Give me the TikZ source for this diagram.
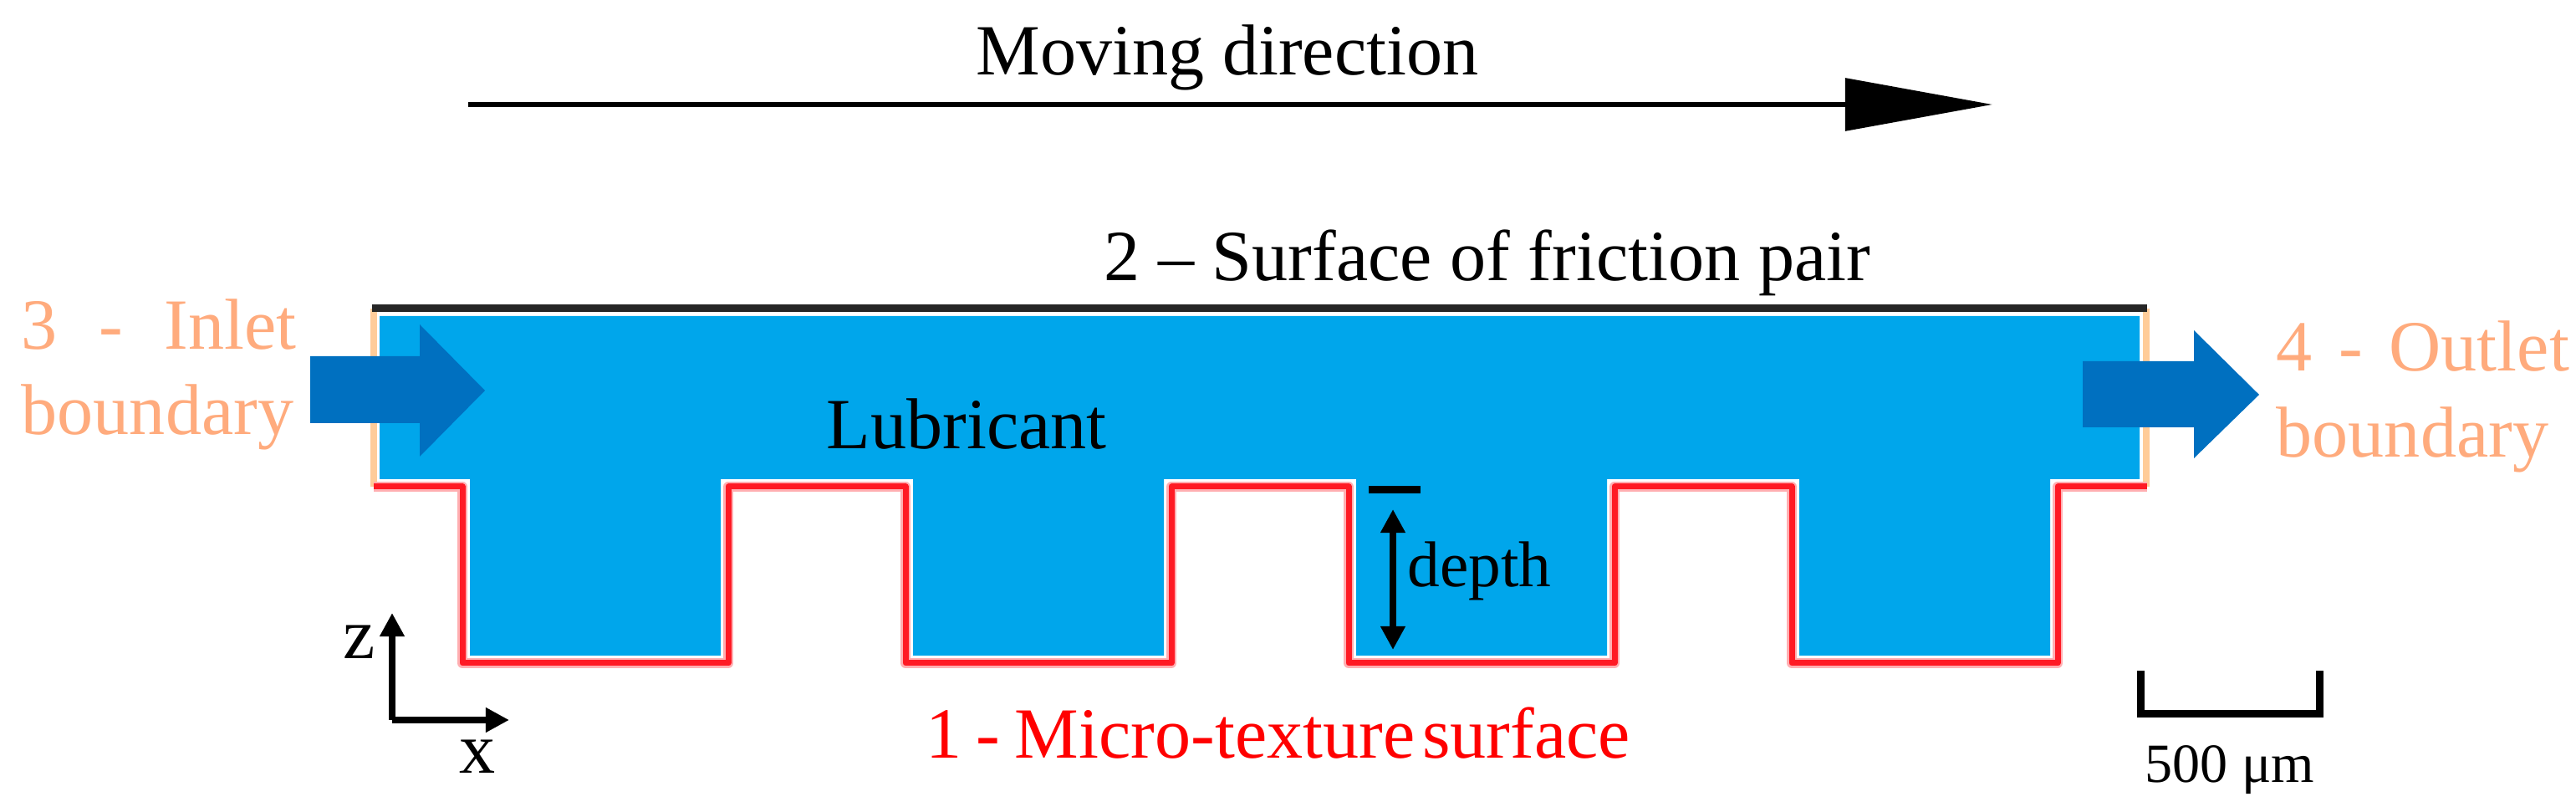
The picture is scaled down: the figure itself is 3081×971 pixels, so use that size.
\documentclass[tikz,border=0pt]{standalone}
\usepackage{xcolor}
\usepackage{fontspec}
\setmainfont{Liberation Serif}
\usetikzlibrary{positioning, arrows.meta, calc}
\definecolor{lubricantBlue}{HTML}{00A6EB}
\definecolor{flowBlue}{HTML}{0070C0}
\definecolor{boundaryOrange}{HTML}{FFAB7D}
\definecolor{sideOrange}{HTML}{FFCC99}
\definecolor{wallBlack}{HTML}{262626}
\definecolor{textureRed}{HTML}{FF1A24}

\begin{document}
\begin{tikzpicture}[
    x=0.01cm, y=-0.01cm,
    label/.style={inner sep=0pt, anchor=base west, font=\fontsize{24.5}{28}\selectfont},
    boundaryLabel/.style={label, text=boundaryOrange},
    depthLabel/.style={label, font=\fontsize{22}{26}\selectfont},
    scaleLabel/.style={label, font=\fontsize{18.8}{22}\selectfont},
    flow/.style={fill=flowBlue},
    moving/.style={line width=0.06cm, -{Triangle[length=1.76cm, width=0.62cm]}},
    axis/.style={line width=0.08cm, -{Triangle[length=0.28cm, width=0.28cm]}},
    gauge/.style={line width=0.08cm, {Triangle[length=0.28cm, width=0.28cm]}-{Triangle[length=0.28cm, width=0.28cm]}},
    texture/.style={line join=round, draw=textureRed, line width=0.07cm},
    textureGlow/.style={line join=round, draw=textureRed!35, line width=0.12cm}]

  \useasboundingbox (0,0) rectangle (3081,971);

  \fill[lubricantBlue] (454,378) -- (2559,378) -- (2559,573) -- (2452,573) -- (2452,784) -- (2152,784)
        -- (2152,573) -- (1922,573) -- (1922,784) -- (1622,784) -- (1622,573) -- (1392,573)
        -- (1392,784) -- (1092,784) -- (1092,573) -- (862,573) -- (862,784) -- (562,784)
        -- (562,573) -- (454,573) -- cycle;

  \draw[sideOrange, line width=0.08cm] (447,369) -- (447,582);
  \draw[sideOrange, line width=0.08cm] (2567,369) -- (2567,582);
  \draw[wallBlack, line width=0.09cm] (445,369) -- (2568,369);

  \draw[textureGlow] (447,582) -- (553,582) -- (553,793) -- (871,793) -- (871,582) -- (1083,582)
        -- (1083,793) -- (1401,793) -- (1401,582) -- (1613,582) -- (1613,793) -- (1931,793)
        -- (1931,582) -- (2143,582) -- (2143,793) -- (2461,793) -- (2461,582) -- (2568,582);
  \draw[texture] (447,582) -- (553,582) -- (553,793) -- (871,793) -- (871,582) -- (1083,582)
        -- (1083,793) -- (1401,793) -- (1401,582) -- (1613,582) -- (1613,793) -- (1931,793)
        -- (1931,582) -- (2143,582) -- (2143,793) -- (2461,793) -- (2461,582) -- (2568,582);

  \fill[flow] (371,426) -- (502,426) -- (502,388) -- (580,467) -- (502,546) -- (502,506) -- (371,506) -- cycle;
  \fill[flow] (2491,432) -- (2624,432) -- (2624,395) -- (2702,472) -- (2624,548) -- (2624,511) -- (2491,511) -- cycle;

  \coordinate (moveStart) at (560,125);
  \coordinate (moveEnd) at (2383,125);
  \draw[moving] (moveStart) -- (moveEnd);
  \node[label] (movingText) at (1167,90) {Moving direction};

  \node[label] (surfaceText) at (1320,336) {2 -- Surface of friction pair};
  \node[label] (lubricantText) at (988,537) {Lubricant};
  \node[label, text=red] (textureText) at (1107,907) {1\kern0.2em-\kern0.2em Micro-texture\kern0.1em surface};

  \node[boundaryLabel] (inletTop) at (25,418) {\hbox to 3.29cm{3\hfill-\hfill Inlet}};
  \node[boundaryLabel] (inletBottom) at (25,520) {boundary};
  \node[boundaryLabel] (outletTop) at (2722,444) {\hbox to 3.5cm{4\hfill-\hfill Outlet}};
  \node[boundaryLabel] (outletBottom) at (2722,547) {boundary};

  \coordinate (tickLeft) at (1637,586);
  \coordinate (tickRight) at (1699,586);
  \coordinate (gaugeTop) at (1666,609);
  \coordinate (gaugeBottom) at (1666,777);
  \draw[line width=0.09cm] (tickLeft) -- (tickRight);
  \draw[gauge] (gaugeTop) -- (gaugeBottom);
  \node[depthLabel] (depthText) at (1683,702) {depth};

  \coordinate (origin) at (469,861);
  \coordinate (axisZ) at (469,733);
  \coordinate (axisX) at (609,861);
  \draw[axis] (origin) -- (axisZ);
  \draw[axis] (origin) -- (axisX);
  \node[label, anchor=center] (zText) at (430,768) {z};
  \node[label, anchor=center] (xText) at (571,905) {x};

  \coordinate (barLeft) at (2560,802);
  \coordinate (barRight) at (2774,802);
  \draw[line width=0.09cm] (barLeft) -- (2560,854) -- (2774,854) -- (barRight);
  \node[scaleLabel] (barText) at (2565,936) {500 μm};

\end{tikzpicture}
\end{document}
